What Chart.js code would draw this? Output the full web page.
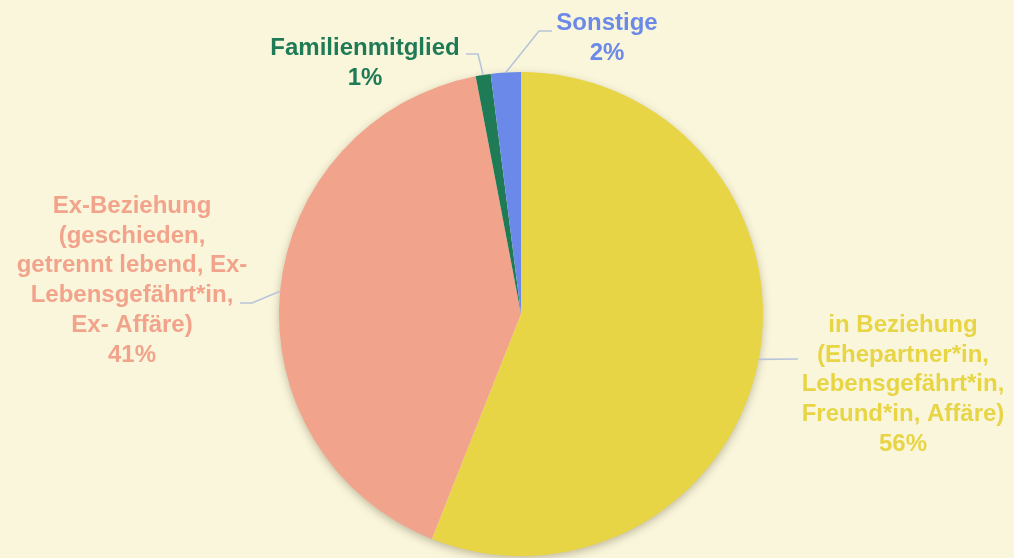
<!DOCTYPE html>
<html>
<head>
<meta charset="utf-8">
<script src="https://cdn.jsdelivr.net/npm/chart.js@4.4.0/dist/chart.umd.min.js"></script>
<style>
  html, body { margin: 0; padding: 0; background: #faf6db; }
  canvas { display: block; }
</style>
</head>
<body>
<canvas id="pieChart" width="1014" height="558"></canvas>
<script>
const categories = [
    'in Beziehung (Ehepartner*in, Lebensgefährt*in, Freund*in, Affäre)',
    'Ex-Beziehung (geschieden, getrennt lebend, Ex-Lebensgefährt*in, Ex- Affäre)',
    'Familienmitglied',
    'Sonstige'
];
const shares = [56, 41, 1, 2];
const labelLines = [
    ['in Beziehung', '(Ehepartner*in,', 'Lebensgefährt*in,', 'Freund*in, Affäre)'],
    ['Ex-Beziehung', '(geschieden,', 'getrennt lebend, Ex-', 'Lebensgefährt*in,', 'Ex- Affäre)'],
    ['Familienmitglied'],
    ['Sonstige']
];
const colors = ['#e8d546', '#f2a38b', '#1f7a56', '#6a89e9'];

// shadow under the whole pie
const pieShadow = {
    id: 'pieShadow',
    beforeDatasetsDraw(chart) {
        const arc = chart.getDatasetMeta(0).data[0];
        const ctx = chart.ctx;
        ctx.save();
        ctx.shadowColor = 'rgba(60, 50, 20, 0.35)';
        ctx.shadowBlur = 10;
        ctx.shadowOffsetY = 3;
        ctx.fillStyle = '#faf6db';
        ctx.beginPath();
        ctx.arc(arc.x, arc.y, arc.outerRadius - 1, 0, Math.PI * 2);
        ctx.fill();
        ctx.restore();
    }
};

// outside labels with leader lines
const outsideLabels = {
    id: 'outsideLabels',
    afterDatasetsDraw(chart, args, opts) {
        const ctx = chart.ctx;
        const arcs = chart.getDatasetMeta(0).data;
        arcs.forEach((arc, i) => {
            const p = opts.items[i];
            const mid = (arc.startAngle + arc.endAngle) / 2;
            const sx = arc.x + Math.cos(mid) * arc.outerRadius;
            const sy = arc.y + Math.sin(mid) * arc.outerRadius;

            ctx.save();
            ctx.strokeStyle = '#b8c4da';
            ctx.lineWidth = 1.6;
            ctx.beginPath();
            ctx.moveTo(sx, sy);
            p.path.forEach(pt => ctx.lineTo(pt[0], pt[1]));
            ctx.stroke();

            ctx.fillStyle = colors[i];
            ctx.font = 'bold 24px "Liberation Sans", Arial, sans-serif';
            ctx.textAlign = 'center';
            ctx.textBaseline = 'alphabetic';
            const lines = labelLines[i].concat([shares[i] + '%']);
            lines.forEach((t, k) => {
                ctx.fillText(t, p.x, p.y + k * opts.lineHeight);
            });
            ctx.restore();
        });
    }
};

new Chart(document.getElementById('pieChart'), {
    type: 'pie',
    data: {
        labels: categories,
        datasets: [{
            data: shares,
            backgroundColor: colors,
            borderWidth: 0
        }]
    },
    options: {
        responsive: false,
        devicePixelRatio: 1,
        animation: false,
        events: [],
        layout: {
            padding: { left: 279, right: 251, top: 72, bottom: 2 }
        },
        plugins: {
            legend: { display: false },
            tooltip: { enabled: false },
            outsideLabels: {
                lineHeight: 29.7,
                items: [
                    { x: 903, y: 332, path: [[798, 359]] },
                    { x: 132, y: 213, path: [[252, 303], [240, 303]] },
                    { x: 365, y: 55, path: [[478, 54], [466, 54]] },
                    { x: 607, y: 30, path: [[539, 31], [552, 31]] }
                ]
            }
        }
    },
    plugins: [pieShadow, outsideLabels]
});
</script>
</body>
</html>
